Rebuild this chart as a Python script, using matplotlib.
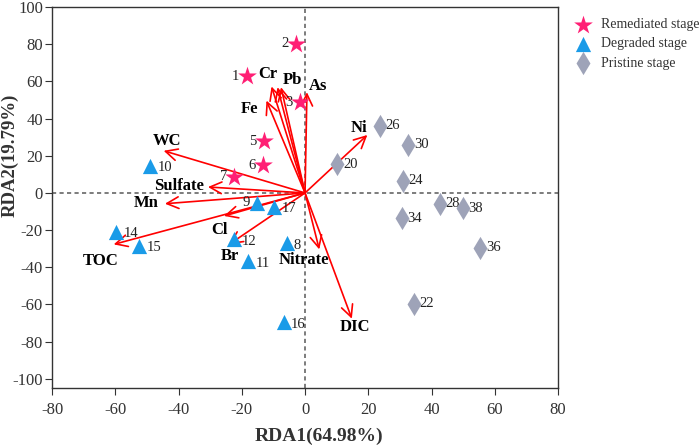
import numpy as np
import matplotlib
matplotlib.use('Agg')
import matplotlib.pyplot as plt

plt.rcParams['font.family'] = ['Liberation Serif', 'DejaVu Serif']
plt.rcParams['axes.unicode_minus'] = False

# sample scores
rem_ids = ['1', '2', '3', '5', '6', '7']
rem_x = [-18.4, -2.9, -1.7, -13.1, -13.4, -22.4]
rem_y = [62.7, 80.4, 48.8, 27.7, 14.8, 8.8]

deg_ids = ['8', '9', '10', '11', '12', '14', '15', '16', '17']
deg_x = [-5.8, -15.3, -48.9, -17.9, -22.4, -59.7, -52.4, -6.8, -9.7]
deg_y = [-27.2, -5.2, 14.6, -36.8, -25.0, -21.1, -28.6, -69.7, -7.6]

pri_ids = ['20', '22', '24', '26', '28', '30', '34', '36', '38']
pri_x = [10.2, 34.4, 30.9, 23.7, 42.6, 32.7, 30.5, 55.4, 49.9]
pri_y = [15.5, -59.6, 6.5, 36.2, -5.8, 25.9, -13.7, -29.5, -8.3]

# environmental vectors
env_names = ['Cr', 'Pb', '', 'As', 'Fe', 'Ni', 'WC', 'Sulfate', 'Mn',
             'TOC', 'Cl', 'Br', 'Nitrate', 'DIC']
env_x = [-10.6, -8.7, -7.6, 0.6, -12.2, 19.7, -44.7, -30.7, -44.3,
         -60.5, -25.6, -24.0, 4.5, 14.8]
env_y = [57.3, 56.9, 56.9, 54.2, 49.7, 31.2, 22.7, 3.2, -5.8,
         -27.7, -12.4, -27.7, -30.4, -67.7]
lab_x = [-11.8, -3.9, 0, 4.0, -17.4, 17.2, -43.6, -39.9, -50.2,
         -64.5, -27.2, -23.7, -0.5, 15.7]
lab_y = [63.8, 61.0, 0, 57.8, 45.2, 34.8, 27.7, 3.8, -5.2,
         -36.4, -20.0, -34.0, -36.0, -71.9]

fig = plt.figure(figsize=(6.99, 4.46), dpi=100)
ax = fig.add_axes([0.0744, 0.130, 0.724, 0.854])

ax.axhline(0, color='#666666', lw=1.2, ls=(0, (2.5, 2)), zorder=1)
ax.axvline(0, color='#666666', lw=1.2, ls=(0, (2.5, 2)), zorder=1)

for i in range(len(env_names)):
    ax.annotate('', xy=(env_x[i], env_y[i]), xytext=(0, 0),
                arrowprops=dict(arrowstyle='->,head_length=0.85,head_width=0.42',
                                color='#ff0000', lw=1.2, shrinkA=0, shrinkB=0),
                zorder=3)
    if env_names[i] != '':
        ax.text(lab_x[i], lab_y[i], env_names[i], fontsize=12, fontweight='bold',
                ha='center', va='center', zorder=5)

ax.scatter(rem_x, rem_y, marker='*', s=200, color='#ff1f74', zorder=4,
           label='Remediated stage', linewidths=0)
ax.scatter(deg_x, deg_y, marker='^', s=120, color='#1a9be8', zorder=4,
           label='Degraded stage', linewidths=0)
ax.scatter(pri_x, pri_y, marker='d', s=140, color='#9ea3b8', zorder=4,
           label='Pristine stage', linewidths=0)

for i in range(len(rem_ids)):
    ax.text(rem_x[i] - 2.3, rem_y[i], rem_ids[i], fontsize=10.5, ha='right',
            va='center', color='#222222')
for i in range(len(deg_ids)):
    if deg_ids[i] == '9':
        ax.text(deg_x[i] - 2.3, deg_y[i], deg_ids[i], fontsize=10.5, ha='right',
                va='center', color='#222222')
    else:
        ax.text(deg_x[i] + 2.3, deg_y[i] - 1, deg_ids[i], fontsize=10.5,
                ha='left', va='center', color='#222222')
for i in range(len(pri_ids)):
    ax.text(pri_x[i] + 1.8, pri_y[i], pri_ids[i], fontsize=10.5, ha='left',
            va='center', color='#222222')

ax.set_xlim(-80, 80)
ax.set_ylim(-105, 100)
ax.set_xticks(np.arange(-80, 81, 20))
ax.set_yticks(np.arange(-100, 101, 20))
ax.tick_params(axis='both', labelsize=12, direction='out', length=5,
               color='#333333', labelcolor='#333333')
ax.tick_params(axis='x', pad=5)
ax.tick_params(axis='y', pad=1.5)
for sp in ax.spines.values():
    sp.set_color('#333333')
    sp.set_linewidth(1.0)

ax.set_xlabel('RDA1(64.98%)', fontsize=14, fontweight='bold', color='#333333')
ax.set_ylabel('RDA2(19.79%)', fontsize=13.5, fontweight='bold', color='#333333')
ax.xaxis.set_label_coords(0.528, -0.103)
ax.yaxis.set_label_coords(-0.066, 0.61)

ax.legend(loc='upper left', bbox_to_anchor=(1.0, 1.0), frameon=False,
          fontsize=10, handletextpad=0.3, labelspacing=0.45,
          borderaxespad=0.4, labelcolor='#333333')

fig.savefig('out.png', dpi=100)
